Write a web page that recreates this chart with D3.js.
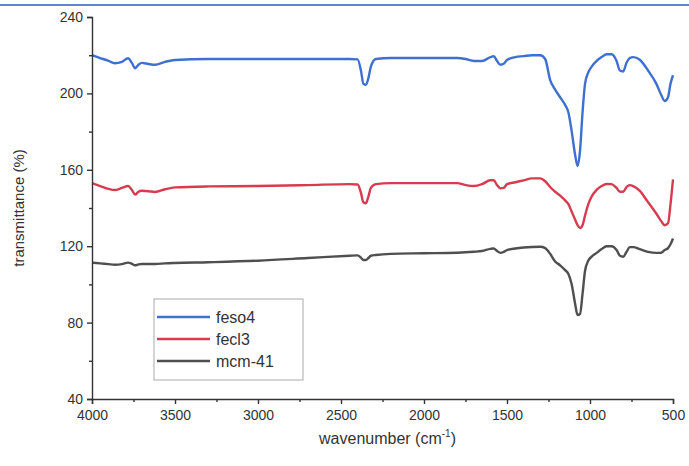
<!DOCTYPE html>
<html><head><meta charset="utf-8">
<script src="https://cdn.jsdelivr.net/npm/d3@7"></script>
<style>body{margin:0;background:#fff;font-family:"Liberation Sans",Arial,sans-serif;}</style>
</head><body><svg id="c" width="689" height="466"></svg>
<script>
const wavenumbers = [4000,3950,3900,3863,3820,3783,3760,3740,3720,3700,3660,3620,3560,3500,3300,3000,2700,2450,2400,2380,2365,2350,2335,2320,2290,2200,2000,1800,1750,1700,1650,1600,1580,1560,1540,1520,1500,1450,1400,1350,1300,1270,1240,1210,1180,1150,1130,1110,1090,1075,1060,1045,1030,1010,990,960,930,900,870,840,820,800,780,760,740,700,650,600,570,550,530,515,500];
const feso4 = [220,218.5,217,215.8,216.5,218.4,216,213.2,215,216,215.4,215,216.5,217.5,218,218,218,218,217.8,212,205,204.5,208,214,218,218.5,218.5,218.5,218,217,217,219,219.5,217,215,215.5,217.5,219,219.5,220,220,218,207,202,198,194,190,180,168,162,170,190,205,211,214,217,219,220.5,220.5,217,212,211.5,216,218.5,219,217.6,212,205,199,196,198,205,209.5];
const fecl3 = [153,151.5,150,149.4,150.5,151.5,149.5,147,148.5,149,148.8,148.4,149.8,150.8,151.3,151.5,152,152.5,152.3,148,143,142.5,146,150.5,152.5,153,153,153,152,151.5,152.5,154.5,154.5,152,150.3,150.5,152.5,153.5,154.5,155.5,155.5,154,151,148.5,146.5,144,142,138,134,131,129.5,131,136,142,146,149.5,151.5,152.6,152.5,150.5,148.5,148.5,151,152,151.5,149,143,137,133,131,132,142,155];
const mcm41 = [111.4,111,110.6,110.3,110.6,111.4,110.8,110,110.5,110.7,110.7,110.7,111,111.2,111.6,112.4,113.8,115,115.2,114,112.8,112.8,113.8,115,115.4,116,116.3,116.6,116.8,117.1,117.5,118.6,118.8,117.5,116.5,117,118,118.8,119.3,119.6,119.7,119,116,112,110,107.5,105.5,100,90,84,84.5,95,107,112.5,114.5,116.5,118.5,120,120,118,115,114.5,117,119.5,119.5,118.5,117,116.5,116.6,118,119,121,124];
const seriesNames = ["feso4","fecl3","mcm-41"];
const seriesColors = ["#3f6fcf","#d63b4f","#4f4f4f"];
const xTicks = [4000,3500,3000,2500,2000,1500,1000,500];
const yTicks = [40,80,120,160,200,240];

const svg = d3.select("#c");
const m = {l:92, r:16, t:17, b:67};
const W = 689, H = 466;
const x = d3.scaleLinear().domain([4000,500]).range([m.l, W-m.r]);
const y = d3.scaleLinear().domain([40,240]).range([H-m.b, m.t]);

// top decorative border line
svg.append("line").attr("x1",0).attr("x2",W).attr("y1",5).attr("y2",5)
  .attr("stroke","#5b86d6").attr("stroke-width",2);

const allSeries = [feso4, fecl3, mcm41];
const line = d3.line().x((d,i)=>x(wavenumbers[i])).y(d=>y(d)).curve(d3.curveMonotoneX);
allSeries.forEach((s,k)=>{
  svg.append("path").datum(s).attr("d", line).attr("fill","none")
    .attr("stroke", seriesColors[k]).attr("stroke-width",2.4).attr("stroke-linejoin","round");
});

// axes
const xAxis = svg.append("g").attr("transform",`translate(0,${H-m.b})`)
  .call(d3.axisBottom(x).tickValues(xTicks).tickFormat(d3.format("d")).tickSizeOuter(0).tickSize(5).tickPadding(6));
const xMinor = svg.append("g").attr("transform",`translate(0,${H-m.b})`)
  .call(d3.axisBottom(x).tickValues(d3.range(3750,500,-500)).tickFormat("").tickSizeOuter(0).tickSize(3));
xMinor.select(".domain").remove();
const yAxis = svg.append("g").attr("transform",`translate(${m.l},0)`)
  .call(d3.axisLeft(y).tickValues(yTicks).tickSizeOuter(0).tickSize(5).tickPadding(4));
const yMinor = svg.append("g").attr("transform",`translate(${m.l},0)`)
  .call(d3.axisLeft(y).tickValues(d3.range(60,240,40)).tickFormat("").tickSizeOuter(0).tickSize(3));
yMinor.select(".domain").remove();
[xAxis,yAxis,xMinor,yMinor].forEach(g=>{
  g.selectAll("path,line").attr("stroke","#333").attr("stroke-width",1.4);
  g.selectAll("text").attr("font-family","Liberation Sans, Arial, sans-serif").attr("font-size",14).attr("fill","#333");
});

// axis titles
const xt = svg.append("text").attr("x",(m.l+W-m.r)/2 + 5).attr("y",444).attr("text-anchor","middle")
  .attr("font-size",16).attr("fill","#333").attr("font-family","Liberation Sans, Arial, sans-serif");
xt.append("tspan").text("wavenumber (cm");
xt.append("tspan").text("-1").attr("font-size",10).attr("dy",-7);
xt.append("tspan").text(")").attr("dy",7);
svg.append("text").attr("transform",`translate(24,${(m.t+H-m.b)/2}) rotate(-90)`).attr("text-anchor","middle")
  .attr("font-size",15).attr("fill","#333").attr("font-family","Liberation Sans, Arial, sans-serif")
  .text("transmittance (%)");

// legend
const lg = svg.append("g");
lg.append("rect").attr("x",154).attr("y",299).attr("width",149).attr("height",81)
  .attr("fill","#fff").attr("stroke","#aaa").attr("stroke-width",1);
seriesNames.forEach((n,i)=>{
  const yy = 317 + i*22;
  lg.append("line").attr("x1",157).attr("x2",210).attr("y1",yy).attr("y2",yy)
    .attr("stroke",seriesColors[i]).attr("stroke-width",2.4);
  lg.append("text").attr("x",216).attr("y",yy+5.5).text(n).attr("font-size",16).attr("fill","#333")
    .attr("font-family","Liberation Sans, Arial, sans-serif");
});
</script></body></html>
